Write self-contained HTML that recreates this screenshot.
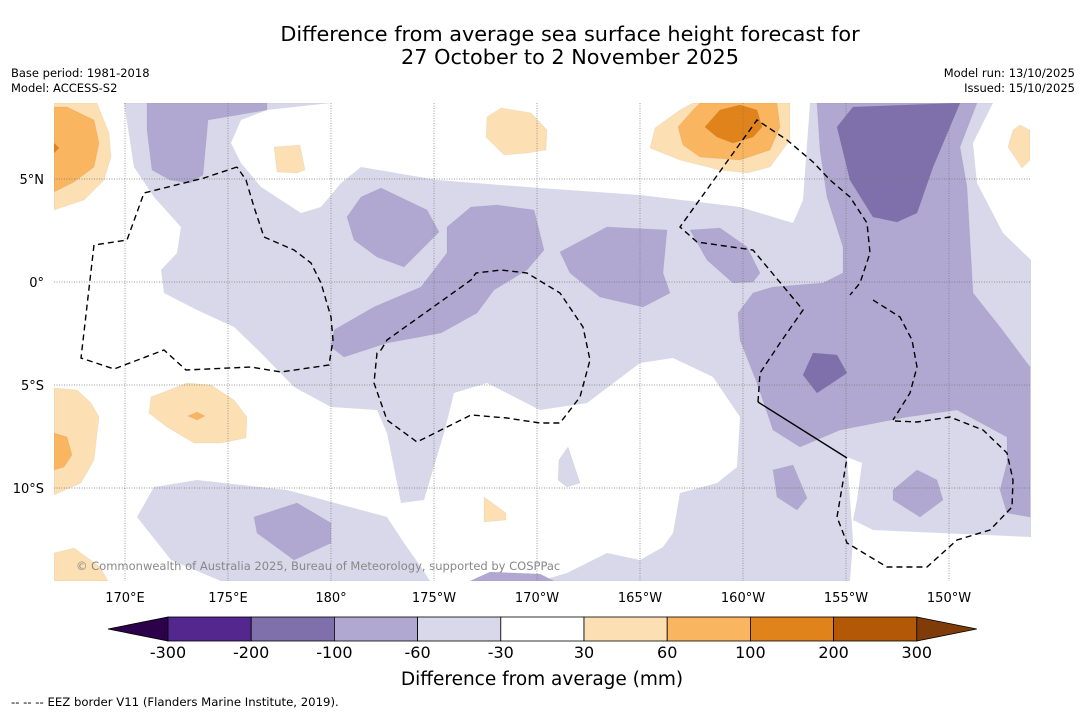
<!DOCTYPE html>
<html><head><meta charset="utf-8">
<style>
body{margin:0;background:#fff;width:1085px;height:713px;overflow:hidden;font-family:"Liberation Sans","DejaVu Sans",sans-serif;}
svg{position:absolute;left:0;top:0}
</style></head>
<body>
<svg id="chart" width="1085" height="713" font-family="DejaVu Sans, Liberation Sans, sans-serif">
<text x="570" y="41" text-anchor="middle" font-size="20.8">Difference from average sea surface height forecast for</text>
<text x="570" y="64" text-anchor="middle" font-size="20.8">27 October to 2 November 2025</text>
<text x="11" y="77" font-size="11.5">Base period: 1981-2018</text>
<text x="11" y="92" font-size="11.5">Model: ACCESS-S2</text>
<text x="1075" y="77" font-size="11.5" text-anchor="end">Model run: 13/10/2025</text>
<text x="1075" y="92" font-size="11.5" text-anchor="end">Issued: 15/10/2025</text>
<defs><clipPath id="mapclip"><rect x="54" y="103" width="977" height="478"/></clipPath></defs>
<g id="map" clip-path="url(#mapclip)"></g>
<g id="axes"></g>
<g id="cbar"></g>
<text x="542" y="685" text-anchor="middle" font-size="18.5">Difference from average (mm)</text>
<text x="11" y="706" font-size="11.7">--  --  -- EEZ border V11 (Flanders Marine Institute, 2019).</text>
</svg>
<script>
const lonTicks=[170,175,180,185,190,195,200,205,210];
const lonLabels=["170°E","175°E","180°","175°W","170°W","165°W","160°W","155°W","150°W"];
const latTicks=[5,0,-5,-10];
const latLabels=["5°N","0°","5°S","10°S"];
const cbLevels=[-300,-200,-100,-60,-30,30,60,100,200,300];
const cbColors=["#54278f","#7f70ab","#b0a8d0","#d8d8ea","#ffffff","#fddfb4","#f9b55f","#e0831a","#b35806"];
const cbUnder="#2d004b", cbOver="#7f3b08";
const xOf=lon=>125+(lon-170)*20.6;
const yOf=lat=>282-lat*20.6;
const NS="http://www.w3.org/2000/svg";
function mk(tag,attrs,parent){const e=document.createElementNS(NS,tag);for(const k in attrs)e.setAttribute(k,attrs[k]);parent.appendChild(e);return e;}
const map=document.getElementById('map');
const P=s=>s.map(p=>p.join(',')).join(' ');
const shapes=[
["lavender-base","#d8d8ea",[[54,103],[1031,103],[1031,581],[54,581]]],
["white-left","#fff",[[54,103],[124,103],[134,167],[154,197],[181,227],[177,253],[161,270],[164,293],[197,310],[234,327],[261,353],[294,387],[331,407],[377,410],[387,433],[401,503],[424,500],[444,433],[454,393],[487,383],[540,410],[587,403],[640,363],[673,358],[713,377],[740,417],[737,467],[717,483],[680,493],[673,533],[663,547],[640,560],[607,553],[567,573],[540,581],[430,581],[421,567],[404,543],[387,517],[287,490],[197,480],[154,487],[137,517],[171,560],[221,581],[54,581]]],
["white-top","#fff",[[241,120],[267,110],[331,103],[810,103],[803,200],[793,223],[740,207],[640,195],[540,188],[437,180],[361,167],[341,183],[321,207],[301,213],[261,187],[241,163],[231,143]]],
["white-right","#fff",[[993,103],[1031,103],[1031,260],[1003,233],[977,183],[973,143]]],
["white-bottom-right","#fff",[[847,457],[862,463],[857,500],[853,520],[873,530],[940,533],[1031,537],[1031,581],[850,581],[853,540]]],
["lavender-islet","#d8d8ea",[[568,447],[580,483],[567,487],[558,480],[559,460]]],
["purple-1","#b0a8d0",[[147,103],[267,103],[267,110],[208,120],[203,175],[190,183],[170,180],[152,170],[147,130]]],
["purple-2","#b0a8d0",[[347,217],[361,197],[381,188],[427,210],[439,232],[404,267],[377,257],[354,240]]],
["purple-3","#b0a8d0",[[447,227],[471,207],[497,205],[534,210],[544,250],[527,270],[494,290],[477,313],[441,333],[387,343],[344,357],[331,347],[334,330],[374,307],[421,287],[447,253]]],
["purple-4","#b0a8d0",[[254,517],[297,503],[331,523],[331,543],[294,560],[257,533]]],
["purple-5","#b0a8d0",[[560,252],[607,227],[667,230],[663,273],[670,293],[643,307],[600,297],[570,273]]],
["purple-6","#b0a8d0",[[690,230],[720,228],[747,247],[760,273],[753,282],[733,283],[707,260]]],
["purple-7","#b0a8d0",[[817,103],[977,103],[960,147],[967,187],[973,293],[1000,327],[1030,367],[1030,517],[1007,513],[1000,490],[1007,463],[1007,437],[957,410],[907,417],[840,430],[800,447],[773,430],[757,383],[740,340],[738,313],[753,293],[773,287],[823,283],[843,273],[843,247],[827,197],[820,150]]],
["purple-8","#b0a8d0",[[773,470],[793,465],[807,498],[797,510],[777,497]]],
["purple-9","#b0a8d0",[[893,490],[917,470],[937,480],[943,500],[920,517],[893,500]]],
["purple-10","#b0a8d0",[[470,581],[490,572],[540,574],[554,581]]],
["dark-purple-1","#7f70ab",[[837,127],[853,107],[960,103],[933,167],[917,213],[897,222],[873,217],[850,180]]],
["dark-purple-2","#7f70ab",[[813,353],[837,355],[847,373],[817,393],[803,375]]],
["orange-light-1","#fddfb4",[[54,103],[97,103],[109,133],[111,157],[104,180],[84,200],[54,210]]],
["orange-mid-1","#f9b55f",[[54,107],[67,107],[94,120],[99,143],[94,167],[74,182],[54,192]]],
["orange-dark-1","#e0831a",[[54,143],[59,148],[54,153]]],
["orange-light-2","#fddfb4",[[54,388],[77,390],[91,403],[99,417],[94,460],[81,483],[54,495]]],
["orange-mid-2","#f9b55f",[[54,433],[67,437],[72,455],[64,467],[54,470]]],
["orange-light-3","#fddfb4",[[54,553],[74,548],[100,567],[108,581],[54,581]]],
["orange-light-4","#fddfb4",[[151,397],[187,383],[211,385],[234,400],[247,417],[246,438],[221,443],[194,443],[167,427],[149,413]]],
["orange-mid-4","#f9b55f",[[188,416],[197,412],[205,416],[197,420]]],
["orange-light-5","#fddfb4",[[274,147],[300,145],[305,170],[297,173],[277,172]]],
["orange-light-6","#fddfb4",[[487,117],[501,108],[531,113],[547,130],[546,150],[527,153],[504,155],[486,137]]],
["orange-light-7","#fddfb4",[[484,497],[506,513],[506,520],[484,522]]],
["orange-light-8","#fddfb4",[[650,148],[655,128],[680,110],[693,103],[790,103],[790,140],[770,167],[747,173],[720,170],[680,160]]],
["orange-mid-8","#f9b55f",[[678,127],[693,110],[700,103],[777,103],[780,127],[770,150],[740,160],[700,157],[683,145]]],
["orange-dark-8","#e0831a",[[705,127],[720,110],[740,105],[757,110],[762,127],[753,137],[733,143],[717,137]]],
["orange-light-9","#fddfb4",[[1008,147],[1013,130],[1020,125],[1030,130],[1030,160],[1022,168]]]
];
shapes.forEach(s=>{
const e=mk('polygon',{points:P(s[2]),fill:s[1],stroke:s[1]==='#fff'?'none':'rgba(0,0,0,0.04)'},map);


});
lonTicks.forEach((v,i)=>{
const l=mk('line',{x1:xOf(v),x2:xOf(v),y1:103,y2:581,stroke:'#777','stroke-width':0.7,'stroke-dasharray':'1,1.5'},map);


const t=mk('text',{x:xOf(v),y:602,'text-anchor':'middle','font-size':13},document.getElementById('axes'));
t.textContent=lonLabels[i];


});
latTicks.forEach((v,i)=>{
const l=mk('line',{x1:54,x2:1031,y1:yOf(v),y2:yOf(v),stroke:'#777','stroke-width':0.7,'stroke-dasharray':'1,1.5'},map);


const t=mk('text',{x:44,y:yOf(v)+5,'text-anchor':'end','font-size':13},document.getElementById('axes'));
t.textContent=latLabels[i];


});
const eez=[
[[237,167],[204,178],[144,193],[127,240],[94,245],[81,358],[114,369],[164,350],[186,370],[251,367],[281,372],[329,365],[333,340],[331,317],[321,283],[311,263],[294,250],[264,237],[254,207],[246,180],[237,167]],
[[381,350],[387,340],[471,280],[476,273],[501,270],[527,273],[560,293],[583,327],[590,360],[580,397],[560,423],[540,423],[507,418],[471,415],[417,442],[387,420],[374,383],[377,353],[381,350]],
[[758,402],[760,373],[780,343],[803,310],[753,250],[697,242],[680,227],[757,120],[787,140],[813,162],[830,180],[850,197],[867,223],[870,253],[860,283],[850,295]],
[[873,300],[900,317],[912,340],[917,367],[910,393],[893,420]],
[[895,421],[917,422],[950,417],[983,430],[1007,453],[1013,480],[1012,507],[990,530],[957,540],[927,567],[887,567],[847,543],[837,517],[847,458]]
];
eez.forEach(s=>{
const e=mk('polyline',{points:P(s),fill:'none',stroke:'#000','stroke-width':1.4,'stroke-dasharray':'6,4'},map);


});
const sol=mk('polyline',{points:P([[758,402],[847,458]]),fill:'none',stroke:'#000','stroke-width':1.4},map);


const cr=mk('text',{x:76,y:570,'font-size':11.5,fill:'#888'},map);
cr.textContent='© Commonwealth of Australia 2025, Bureau of Meteorology, supported by COSPPac';


const cb=document.getElementById('cbar');
const cx0=168,cw=83.2,cy=617,ch=24;
const tl=mk('polygon',{points:`108,629 ${cx0},${cy} ${cx0},${cy+ch}`,fill:cbUnder,stroke:'#000','stroke-width':0.8},cb);


cbColors.forEach((c,i)=>{
const r=mk('rect',{x:cx0+i*cw,y:cy,width:cw,height:ch,fill:c,stroke:'#000','stroke-width':0.8},cb);


});
const xe=cx0+cbColors.length*cw;
const tr=mk('polygon',{points:`${xe},${cy} ${xe+60},629 ${xe},${cy+ch}`,fill:cbOver,stroke:'#000','stroke-width':0.8},cb);


cbLevels.forEach((v,i)=>{
const t=mk('text',{x:cx0+i*cw,y:658,'text-anchor':'middle','font-size':16},cb);
t.textContent=String(v);


});
</script>
</body></html>
